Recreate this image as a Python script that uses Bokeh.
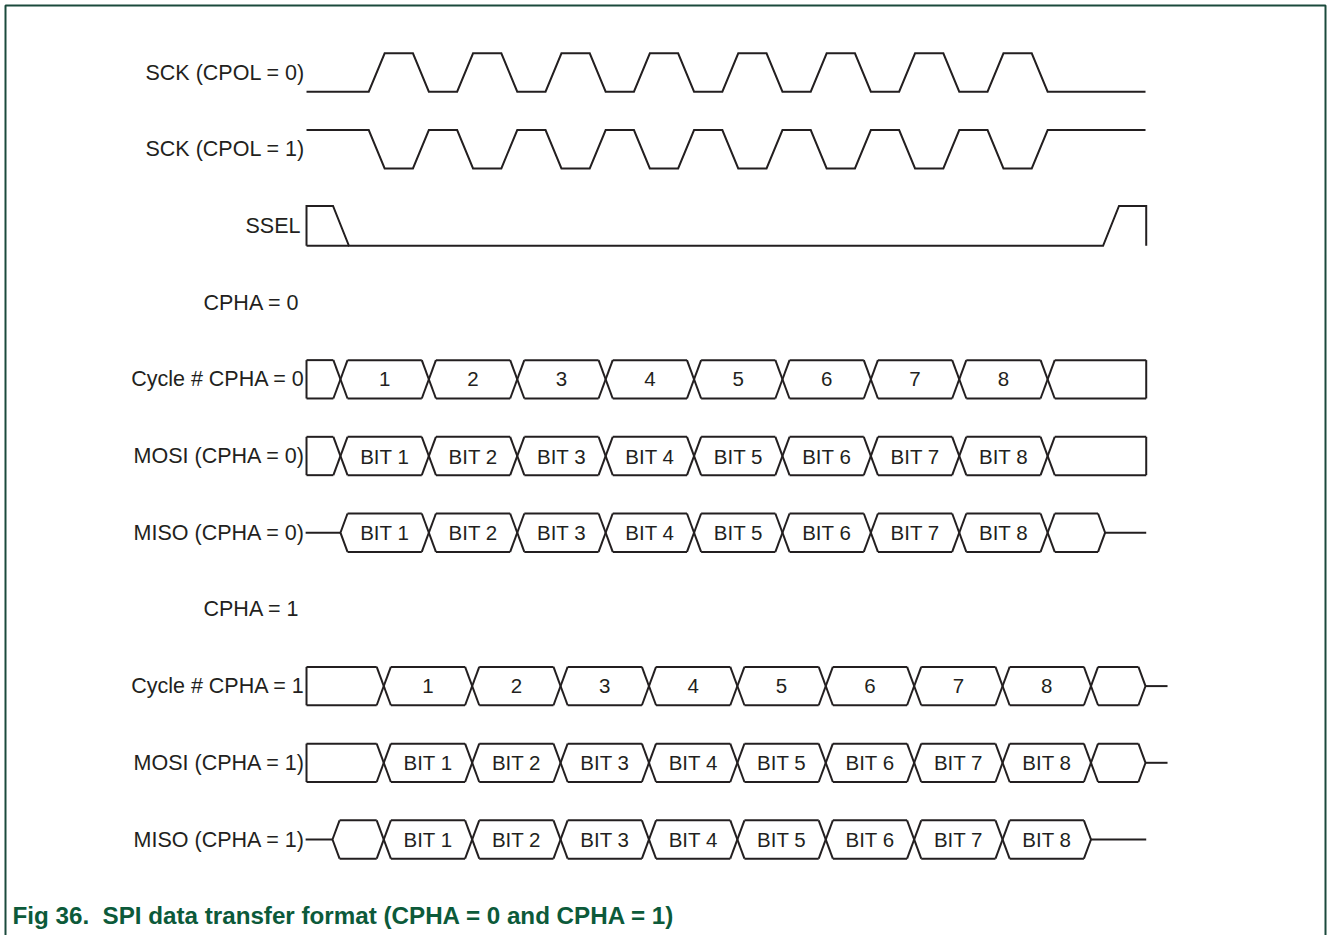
from bokeh.plotting import figure
from bokeh.models import Range1d
from bokeh.core.properties import value
from bokeh.embed import file_html
from bokeh.resources import INLINE

# ---------------- data (time in SCK periods, t = 0 at clock edge before cycle 1) -------------
row_labels = ["SCK (CPOL = 0)", "SCK (CPOL = 1)", "SSEL", "",
              "Cycle # CPHA = 0", "MOSI (CPHA = 0)", "MISO (CPHA = 0)", "",
              "Cycle # CPHA = 1", "MOSI (CPHA = 1)", "MISO (CPHA = 1)"]
section_labels = ["CPHA = 0", "CPHA = 1"]
section_rows = [3, 7]
cycle_numbers = ["1", "2", "3", "4", "5", "6", "7", "8"]
bit_names = ["BIT 1", "BIT 2", "BIT 3", "BIT 4", "BIT 5", "BIT 6", "BIT 7", "BIT 8"]
sck_leading_edges = [0.5, 1.5, 2.5, 3.5, 4.5, 5.5, 6.5, 7.5]
sck_trailing_edges = [1.0, 2.0, 3.0, 4.0, 5.0, 6.0, 7.0, 8.0]
ssel_fall = 0.096
ssel_rise = 8.807
cpha0_transitions = [0.09, 1.09, 2.09, 3.09, 4.09, 5.09, 6.09, 7.09, 8.09]
cpha1_transitions = [0.58, 1.58, 2.58, 3.58, 4.58, 5.58, 6.58, 7.58, 8.58]
miso0_drive_on, miso0_drive_off = 0.09, 8.74
miso1_drive_on, miso1_drive_off = 0.0, 8.58
trace_start = -0.294
trace_end = 9.205
trace_end_cpha1 = 9.446
title = "Fig 36.\u00a0 SPI data transfer format (CPHA = 0 and CPHA = 1)"

# ---------------- layout / style ----------------
PAGE = 0
W, H = 1327, 935
PX_CYC, PX_ROW = 88.4, 76.7
X_T0, Y_R0 = 332.0, 72.0          # screen position of t=0 and row 0
x0 = (PAGE - X_T0) / PX_CYC
x1 = (PAGE + W - X_T0) / PX_CYC
y_top = (PAGE - Y_R0) / PX_ROW
y_bot = (PAGE + H - Y_R0) / PX_ROW

INK = "#231f20"
GREEN = "#0c5a3a"
FONT = "Liberation Sans"
LW = 2
EDGE = 0.09      # half width of clock edge
XH = 0.08        # half width of bus crossing
AMP = 0.25       # half height of signals
SAMP = 0.26

p = figure(width=W, height=H, output_backend="svg", toolbar_location=None,
           x_range=Range1d(x0, x1), y_range=Range1d(y_bot, y_top),
           min_border=0, outline_line_color=None, background_fill_color="white",
           border_fill_color="white")
p.axis.visible = False
p.xgrid.visible = False
p.ygrid.visible = False

segs_x, segs_y = [], []


def seg(xs, ys):
    segs_x.append(list(xs))
    segs_y.append(list(ys))


# clocks
def clock(row, idle_low):
    lo, hi = row + AMP, row - AMP
    a, b = (lo, hi) if idle_low else (hi, lo)
    xs, ys = [trace_start], [a]
    for le, te in zip(sck_leading_edges, sck_trailing_edges):
        xs += [le - EDGE, le + EDGE, te - EDGE, te + EDGE]
        ys += [a, b, b, a]
    xs.append(trace_end - 0.008)
    ys.append(a)
    seg(xs, ys)


clock(0, True)
clock(1, False)

# SSEL
r = 2
lo, hi = r + SAMP, r - SAMP
seg([trace_start, trace_start, ssel_fall - EDGE, ssel_fall + EDGE, ssel_rise - EDGE,
     ssel_rise + EDGE, trace_end, trace_end],
    [lo, hi, hi, lo, lo, hi, hi, lo])
seg([trace_start, ssel_fall + EDGE], [lo, lo])

texts_x, texts_y, texts = [], [], []


def bus(row, crossings, labels, label_offset, start, end):
    """start: ('box', x) or ('open', x, tail_from); end: ('box', x) or ('close', x, tail_to)"""
    top, bot = row - AMP, row + AMP
    bounds = []
    if start[0] == "box":
        seg([start[1], start[1]], [top, bot])
        bounds.append((start[1], start[1]))
    else:
        pt = start[1]
        seg([start[2], pt], [row, row])
        seg([pt + XH, pt, pt + XH], [top, row, bot])
        bounds.append((pt, pt + XH))
    for c in crossings:
        seg([c - XH, c + XH], [top, bot])
        seg([c - XH, c + XH], [bot, top])
        bounds.append((c - XH, c + XH))
    if end[0] == "box":
        seg([end[1], end[1]], [top, bot])
        bounds.append((end[1], end[1]))
    else:
        pt = end[1]
        seg([pt - XH, pt, pt - XH], [top, row, bot])
        seg([pt, end[2]], [row, row])
        bounds.append((pt - XH, pt))
    for (l0, r0), (l1, r1) in zip(bounds[:-1], bounds[1:]):
        seg([r0, l1], [top, top])
        seg([r0, l1], [bot, bot])
    for i, lab in enumerate(labels):
        k = i + label_offset
        texts_x.append((bounds[k][1] + bounds[k + 1][0]) / 2)
        texts_y.append(row)
        texts.append(lab)


# CPHA = 0
bus(4, cpha0_transitions, cycle_numbers, 1, ("box", trace_start), ("box", trace_end))
bus(5, cpha0_transitions, bit_names, 1, ("box", trace_start), ("box", trace_end))
bus(6, cpha0_transitions[1:], bit_names, 0,
    ("open", miso0_drive_on, trace_start - 0.01), ("close", miso0_drive_off, trace_end))
# CPHA = 1
bus(8, cpha1_transitions, cycle_numbers, 1, ("box", trace_start), ("close", trace_end - 0.008, trace_end_cpha1))
bus(9, cpha1_transitions, bit_names, 1, ("box", trace_start), ("close", trace_end - 0.008, trace_end_cpha1))
bus(10, cpha1_transitions[:-1], bit_names, 1,
    ("open", miso1_drive_on, trace_start - 0.01), ("close", miso1_drive_off, trace_end))

p.multi_line(segs_x, segs_y, line_color=INK, line_width=LW, line_join="miter")

p.text(texts_x, texts_y, text=texts, text_font=value(FONT), text_font_size=value("20.5px"),
       text_color=INK, text_align="center", text_baseline="middle")

rows = [i for i, s in enumerate(row_labels) if s]
label_right = {2: 300}   # SSEL sits a little further from its bracket
lab_xs = [(label_right.get(i, 304.5) - X_T0) / PX_CYC for i in rows]
p.text(lab_xs, rows, text=[row_labels[i] for i in rows], text_font=value(FONT),
       text_font_size=value("21.5px"), text_color=INK, text_align="right", text_baseline="middle")

sec_x = (203 - X_T0) / PX_CYC
p.text([sec_x] * len(section_rows), section_rows, text=section_labels, text_font=value(FONT),
       text_font_size=value("21.5px"), text_color=INK, text_align="left", text_baseline="middle")

p.text([(12 - X_T0) / PX_CYC], [(915 - Y_R0) / PX_ROW], text=[title], text_font=value(FONT),
       text_font_size=value("24.2px"), text_font_style="bold", text_color=GREEN,
       text_align="left", text_baseline="middle")

# frame (left, top, right)
bx0 = (5 - X_T0) / PX_CYC
bx1 = (1325 - X_T0) / PX_CYC
by0 = (5 - Y_R0) / PX_ROW
p.line([bx0, bx0, bx1, bx1], [y_bot + 1, by0, by0, y_bot + 1], line_color="#1b4a3c", line_width=2)

open("out.html", "w").write(file_html(p, INLINE))
